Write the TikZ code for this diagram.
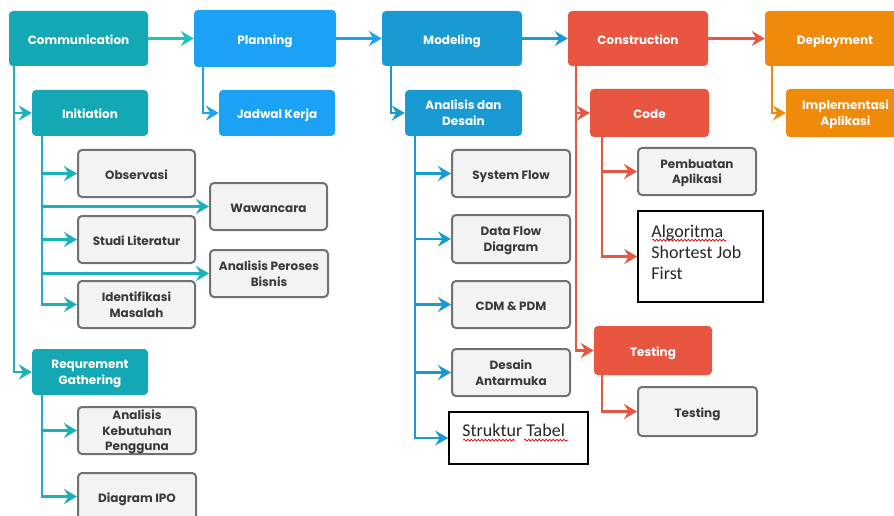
\documentclass[tikz,border=0pt]{standalone}
\usepackage{fontspec}
\setmainfont{Poppins}
\newfontfamily\carlito{Carlito}
\usetikzlibrary{arrows.meta,calc,decorations.pathmorphing}
\definecolor{cteal}{HTML}{14A8B4}
\definecolor{lteal}{HTML}{1BB0BB}
\definecolor{lcyan}{HTML}{20C2C0}
\definecolor{cplan}{HTML}{1BA2F4}
\definecolor{cmod}{HTML}{1A9AD3}
\definecolor{cred}{HTML}{E85541}
\definecolor{corg}{HTML}{EF8A0B}
\definecolor{gfill}{HTML}{F3F3F3}
\definecolor{gline}{HTML}{717171}
\definecolor{gtext}{HTML}{3A3A3A}
\newcommand\bx[7]{\node[#6, minimum width={#4-#2}, minimum height={#5-#3}] (#1) at ({(#2+#4)/2},{(#3+#5)/2}) {#7};}
\begin{document}
\begin{tikzpicture}[x=1pt,y=-1pt,
  phase/.style={rounded corners=4pt, fill=#1, text=white, inner sep=1pt, align=center,
    font=\bfseries\fontsize{12}{16}\selectfont},
  sub/.style={rounded corners=4pt, draw=gline, line width=2pt, fill=gfill, text=gtext,
    inner xsep=2pt, inner ysep=0pt, align=center, font=\bfseries\fontsize{12}{15.5}\selectfont},
  one/.style={text height=12.5pt, text depth=1pt},
  multi/.style={text depth=0pt},
  blk/.style={draw=black, line width=1.6pt, fill=white},
  wtxt/.style={inner sep=0pt, anchor=north west, align=left, text=black!85,
    font=\carlito\fontsize{18}{21}\selectfont},
  conn/.style={line width=2.2pt, draw=#1, -{Stealth[length=13pt,width=15pt,inset=4.5pt]}},
  spell/.style={draw=red!85!black, line width=0.7pt, decorate,
    decoration={snake, amplitude=1pt, segment length=3.5pt}}
]
\useasboundingbox (0,0) rectangle (894,516);
\clip (0,0) rectangle (894,516);
\fill[white] (0,0) rectangle (894,516);

% top row
\bx{comm}{9}{11}{148}{66}{phase=cteal,one}{Communication}
\bx{plan}{194}{10}{336}{67}{phase=cplan,one}{Planning}
\bx{model}{382}{11}{522}{66}{phase=cmod,one}{Modeling}
\bx{cons}{568}{11}{708}{66}{phase=cred,one}{Construction}
\bx{depl}{765}{11}{905}{66}{phase=corg,one}{Deployment}

% second level
\bx{init}{32}{90}{148}{136}{phase=cteal,one}{Initiation}
\bx{jadwal}{219}{90}{335}{136}{phase=cplan,one}{Jadwal Kerja}
\bx{anal}{405}{90}{522}{136}{phase=cmod,multi}{Analisis dan\\Desain}
\bx{code}{590}{89}{709}{137}{phase=cred,one}{Code}
\bx{impl}{786}{89}{905}{137}{phase=corg,multi}{Implementasi\\Aplikasi}
\bx{reqg}{32}{349}{148}{395}{phase=cteal,multi}{Requrement\\Gathering}
\bx{test}{594}{326}{712}{375}{phase=cred,one}{Testing}

% third level
\bx{obs}{78}{150}{195}{197}{sub,one}{Observasi}
\bx{waw}{210}{183}{327}{230}{sub,one}{Wawancara}
\bx{studi}{78}{216}{195}{263}{sub,one}{Studi Literatur}
\bx{apb}{210}{250}{328}{297}{sub,multi}{Analisis Peroses\\Bisnis}
\bx{idm}{78}{281}{195}{328}{sub,multi}{Identifikasi\\Masalah}
\bx{akp}{78}{407}{196}{454}{sub,multi}{Analisis\\Kebutuhan\\Pengguna}
\bx{ipo}{78}{473}{196}{520}{sub,one}{Diagram IPO}
\bx{sf}{452}{150}{570}{197}{sub,one}{System Flow}
\bx{dfd}{452}{215}{570}{263}{sub,multi}{Data Flow\\Diagram}
\bx{cdm}{452}{281}{570}{328}{sub,one}{CDM \& PDM}
\bx{dam}{452}{349}{570}{396}{sub,multi}{Desain\\Antarmuka}
\bx{pa}{638}{148}{756}{195}{sub,multi}{Pembuatan\\Aplikasi}
\bx{tst}{638}{387}{757}{436}{sub,one}{Testing}

% plain boxes
\bx{st}{449}{412}{588}{464}{blk}{}
\bx{alg}{638}{211}{763}{302}{blk}{}
\node[wtxt] (sttxt) at ($(st.north west)+(14,13)$) {Struktur Tabel};
\node[wtxt] (algtxt) at ($(alg.north west)+(14,15)$) {Algoritma\\Shortest Job\\First};
\draw[spell] ($(alg.north west)+(15,30)$) -- ($(alg.north west)+(89,30)$);
\draw[spell] ($(st.north west)+(15,29)$) -- ($(st.north west)+(67,29)$);
\draw[spell] ($(st.north west)+(76,29)$) -- ($(st.north west)+(120,29)$);

% top-row arrows
\draw[conn=lcyan] (comm) -- (plan);
\draw[conn=cplan] (plan) -- (model);
\draw[conn=cmod] (model) -- (cons);
\draw[conn=cred] (cons) -- (depl);

% tree connectors
\foreach \t in {init,reqg} \draw[conn=lteal] ($(comm.south west)+(5,0)$) |- (\t);
\draw[conn=cplan] ($(plan.south west)+(9,0)$) |- (jadwal);
\draw[conn=cmod] ($(model.south west)+(9,0)$) |- (anal);
\foreach \t in {code,test} \draw[conn=cred] ($(cons.south west)+(8,0)$) |- (\t);
\draw[conn=corg] ($(depl.south west)+(7,0)$) |- (impl);
\foreach \t in {obs,waw,studi,apb,idm} \draw[conn=lteal] ($(init.south west)+(10,0)$) |- (\t);
\foreach \t in {akp,ipo} \draw[conn=lteal] ($(reqg.south west)+(10,0)$) |- (\t);
\foreach \t in {sf,dfd,cdm,dam,st} \draw[conn=cmod] ($(anal.south west)+(10,0)$) |- (\t);
\foreach \t in {pa,alg} \draw[conn=cred] ($(code.south west)+(12,0)$) |- (\t);
\draw[conn=cred] ($(test.south west)+(8,0)$) |- (tst);
\end{tikzpicture}
\end{document}
